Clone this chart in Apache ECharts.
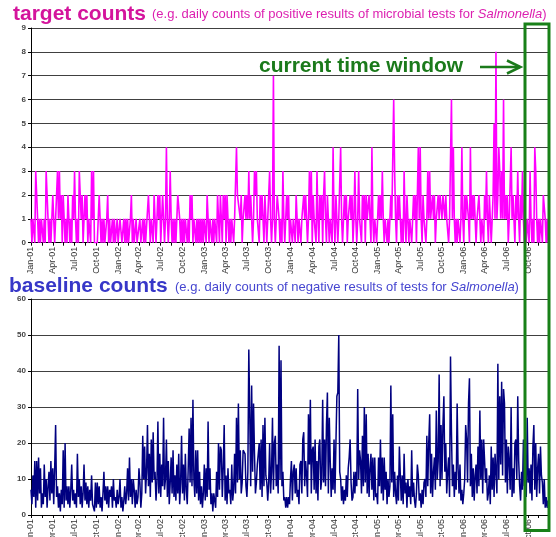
<!DOCTYPE html>
<html>
<head>
<meta charset="utf-8">
<script src="https://cdn.jsdelivr.net/npm/echarts@6/dist/echarts.min.js"></script>
<style>
  html, body { margin: 0; padding: 0; background: #fff; }
  #chart { width: 556px; height: 537px; }
</style>
</head>
<body>
<div id="chart"></div>
<script>
// Daily surveillance counts, one reading every 4 days from 1 Jan 2001 to end of 2006
const startYear = 2001;
const stepDays = 4;

const quarterLabels = [
  'Jan-01','Apr-01','Jul-01','Oct-01','Jan-02','Apr-02','Jul-02','Oct-02',
  'Jan-03','Apr-03','Jul-03','Oct-03','Jan-04','Apr-04','Jul-04','Oct-04',
  'Jan-05','Apr-05','Jul-05','Oct-05','Jan-06','Apr-06','Jul-06','Oct-06'
];

// positive results (target counts)
const targetCounts = [
  1,0,1,1,0,3,2,1,0,1, 0,1,1,0,1,0,3,2,1,0, 1,0,1,2,1,0,1,1,3,1, 3,1,2,0,2,1,0,1,0,2,
  1,0,1,0,2,1,3,1,0,1, 0,3,2,1,2,0,1,2,1,2, 0,1,1,0,3,1,3,0,0,0, 0,0,2,1,0,1,0,1,0,0,
  1,2,0,1,0,0,1,0,1,0, 0,1,0,0,1,1,0,0,1,0, 1,0,1,0,0,1,2,0,1,0, 0,1,0,0,0,1,0,0,1,0,
  1,0,0,0,2,1,0,1,1,0, 2,1,0,1,2,1,2,0,1,2, 1,0,1,4,1,0,1,3,1,0, 1,0,1,0,1,2,2,1,0,1,
  0,1,0,1,1,0,1,0,2,1, 2,0,1,1,0,1,0,1,0,1, 0,1,0,1,1,0,2,1,0,1, 1,0,1,0,1,1,0,2,1,0,
  2,1,0,2,1,2,0,2,1,0, 1,0,1,1,0,1,1,4,2,2, 2,1,2,0,1,1,2,1,2,1, 3,1,2,1,0,1,3,2,3,1,
  1,0,2,1,2,1,0,2,1,0, 1,1,3,1,0,1,7,1,0,1, 2,2,1,0,1,0,3,1,0,1, 2,1,2,0,1,1,0,1,1,0,
  2,1,0,1,1,0,1,1,2,1, 2,1,0,1,3,1,3,0,2,1, 1,0,3,1,0,2,1,2,0,2, 3,1,0,2,1,0,1,1,0,4,
  1,0,2,1,0,1,1,4,1,0, 1,2,1,2,0,1,1,2,1,2, 0,1,3,1,0,1,3,1,1,0, 2,1,2,0,2,1,1,2,1,0,
  4,1,0,1,1,0,1,2,1,2, 1,3,1,0,1,1,0,1,0,1, 2,1,1,6,3,1,0,2,1,2, 1,0,1,0,3,1,0,2,1,0,
  1,1,0,1,2,1,2,0,2,4, 1,4,1,0,2,1,1,0,1,3, 1,3,1,1,2,1,2,0,1,1, 2,1,2,2,1,2,2,1,2,1,
  1,0,1,1,6,1,4,1,0,1, 0,1,1,0,1,4,1,0,2,1, 2,2,1,0,4,1,2,1,2,1, 0,1,1,2,1,0,1,1,0,2,
  1,3,1,0,2,1,0,1,2,5, 1,8,1,2,4,3,1,3,1,6, 1,2,1,2,0,1,1,4,1,2, 1,0,2,1,3,1,0,2,1,3,
  1,0,1,0,1,1,0,3,1,0, 1,0,4,3,1,0,1,0,1,1, 0,2,2,1,0,1,0,1
];

// negative results (baseline counts)
const baselineCounts = [
  7,3,11,5,15,2,15,4,16,6, 13,2,6,3,14,5,10,2,8,12, 4,15,6,13,3,13,25,5,8,2, 6,1,7,3,18,2,20,4,8,3,
  8,2,7,14,4,7,3,6,2,17, 5,10,3,8,2,6,14,4,9,3, 8,2,7,4,11,3,3,1,9,2, 9,3,8,2,5,1,6,12,4,8,
  3,8,2,7,5,8,2,10,4,5, 2,7,3,5,10,2,5,1,4,8, 3,6,13,4,16,5,10,3,10,7, 2,7,3,5,13,9,2,6,22,10,
  19,6,12,25,8,17,5,21,9,23, 10,12,4,9,26,6,17,5,14,8, 27,7,10,21,5,15,3,9,16,6, 18,5,11,4,14,6,17,3,9,22,
  6,14,4,17,7,3,13,24,9,27, 8,32,10,5,18,6,18,4,12,3, 8,2,6,14,4,13,5,26,7,13, 3,6,1,6,4,2,12,5,20,7,
  19,18,5,13,25,4,11,3,13,6, 7,3,14,4,7,17,6,27,9,31, 10,18,6,9,18,18,17,8,5,12, 46,28,8,36,12,31,17,6,9,14,
  14,20,7,21,5,25,8,27,11,9, 4,9,20,6,12,27,7,20,22,8, 14,6,47,10,43,8,12,4,5,2, 5,2,5,3,10,15,4,12,14,6,
  13,5,7,3,14,15,6,21,23,8, 15,11,5,28,14,32,6,18,19,7, 21,6,15,4,19,21,7,10,32,9, 21,8,25,34,6,27,15,5,13,7,
  21,6,20,33,34,50,12,10,4,8, 3,7,4,11,5,13,16,21,9,4, 5,12,6,12,8,35,10,18,15,6, 22,8,30,9,28,6,17,5,13,17,
  7,16,4,16,5,6,3,16,8,21, 6,16,4,16,7,12,3,10,5,8, 36,9,28,5,12,6,3,11,4,19, 11,4,11,3,17,6,9,2,10,5,
  8,3,18,5,9,4,2,6,14,11, 4,6,2,7,3,9,10,5,22,8, 20,28,6,17,5,12,16,7,29,10, 15,39,8,25,10,25,33,12,20,6,
  12,16,5,44,23,8,14,5,12,7, 31,13,6,14,4,7,3,6,10,25, 21,9,31,38,8,17,5,13,4,11, 14,6,19,8,29,10,21,6,21,21,
  9,13,4,6,11,3,19,7,16,5, 17,12,6,42,10,33,14,37,11,35, 31,9,21,6,19,15,7,30,5,13, 6,20,21,10,33,15,8,4,12,7,
  21,8,12,5,27,9,13,6,14,4, 19,25,7,20,5,13,17,6,19,11, 9,3,10,2,5,2,4,1
];

const FONT = '"Liberation Sans", Arial, sans-serif';
const DAY = 86400000;
const t0 = Date.UTC(startYear, 0, 1);

function dateOf(i) { return new Date(t0 + i * stepDays * DAY); }
const categories = targetCounts.map((_, i) => dateOf(i).toISOString().slice(0, 10));

function quarterOf(i) {
  const d = dateOf(i);
  return (d.getUTCFullYear() - startYear) * 4 + Math.floor(d.getUTCMonth() / 3);
}
function halfQuarterOf(i) {
  const d = dateOf(i);
  const m = d.getUTCMonth() % 3;
  const second = (m === 2) || (m === 1 && d.getUTCDate() >= 15);
  return quarterOf(i) * 2 + (second ? 1 : 0);
}
const showLabel = (i) => i === 0 || quarterOf(i) !== quarterOf(i - 1);
const showTick = (i) => i === 0 || halfQuarterOf(i) !== halfQuarterOf(i - 1);

function xAxisFor(gridIndex) {
  return {
    type: 'category', gridIndex, data: categories, boundaryGap: false,
    axisLine: { lineStyle: { color: '#000', width: 1 } },
    axisTick: { interval: showTick, length: 3, lineStyle: { color: '#000' } },
    axisLabel: {
      interval: showLabel, rotate: 90, margin: 4,
      formatter: (v, idx) => quarterLabels[quarterOf(idx)],
      fontSize: 9, color: '#333', fontFamily: FONT
    },
    splitLine: { show: false }
  };
}
function yAxisFor(gridIndex, max, interval) {
  return {
    type: 'value', gridIndex, min: 0, max, interval,
    axisLine: { show: true, lineStyle: { color: '#000', width: 1 } },
    axisTick: { show: true, length: 3, lineStyle: { color: '#000' } },
    axisLabel: { fontSize: 8, fontWeight: 'bold', color: '#444', margin: 5, fontFamily: FONT },
    splitLine: { show: true, lineStyle: { color: '#404040', width: 1 } }
  };
}

const chart = echarts.init(document.getElementById('chart'), null, { renderer: 'canvas' });
chart.setOption({
  animation: false,
  backgroundColor: '#fff',
  grid: [
    { left: 31, right: 7, top: 28, height: 214.7, outerBoundsMode: 'none', containLabel: false },
    { left: 31, right: 7, top: 299, height: 216, outerBoundsMode: 'none', containLabel: false }
  ],
  xAxis: [xAxisFor(0), xAxisFor(1)],
  yAxis: [yAxisFor(0, 9, 1), yAxisFor(1, 60, 10)],
  series: [
    {
      type: 'line', xAxisIndex: 0, yAxisIndex: 0, data: targetCounts,
      showSymbol: false, symbol: 'none', silent: true,
      lineStyle: { color: '#ff00ff', width: 1.6 }
    },
    {
      type: 'line', xAxisIndex: 1, yAxisIndex: 1, data: baselineCounts,
      showSymbol: false, symbol: 'none', silent: true,
      lineStyle: { color: '#000080', width: 1.5 }
    }
  ],
  graphic: [
    { type: 'text', x: 13, y: 14, z: 100, style: {
      text: 'target counts', fill: '#d4149c', fontSize: 21, fontWeight: 'bold', fontFamily: FONT,
      align: 'left', verticalAlign: 'middle' } },
    { type: 'text', x: 152, y: 14, z: 100, style: {
      text: '(e.g. daily counts of positive results of microbial tests for {i|Salmonella})',
      fill: '#dc1fb0', fontSize: 13, fontFamily: FONT, align: 'left', verticalAlign: 'middle',
      rich: { i: { fontStyle: 'italic', fontSize: 13, fontFamily: FONT, fill: '#dc1fb0' } } } },
    { type: 'text', x: 9, y: 286, z: 100, style: {
      text: 'baseline counts', fill: '#3737c8', fontSize: 21, fontWeight: 'bold', fontFamily: FONT,
      align: 'left', verticalAlign: 'middle' } },
    { type: 'text', x: 175, y: 287, z: 100, style: {
      text: '(e.g. daily counts of negative results of tests for {i|Salmonella})',
      fill: '#4646d0', fontSize: 13, fontFamily: FONT, align: 'left', verticalAlign: 'middle',
      rich: { i: { fontStyle: 'italic', fontSize: 13, fontFamily: FONT, fill: '#4646d0' } } } },
    { type: 'text', x: 259, y: 66, z: 100, style: {
      text: 'current time window', fill: '#1b7a1b', fontSize: 21, fontWeight: 'bold', fontFamily: FONT,
      align: 'left', verticalAlign: 'middle' } },
    { type: 'line', z: 100, shape: { x1: 480, y1: 67, x2: 520, y2: 67 },
      style: { stroke: '#1b7a1b', lineWidth: 2.5 } },
    { type: 'polyline', z: 100, shape: { points: [[507, 60.5], [520.5, 67], [507, 73.5]] },
      style: { stroke: '#1b7a1b', lineWidth: 2.5, fill: null } },
    { type: 'rect', z: 100, shape: { x: 525, y: 24, width: 24, height: 506.5 },
      style: { stroke: '#188018', lineWidth: 3, fill: null } }
  ]
});
</script>
</body>
</html>
